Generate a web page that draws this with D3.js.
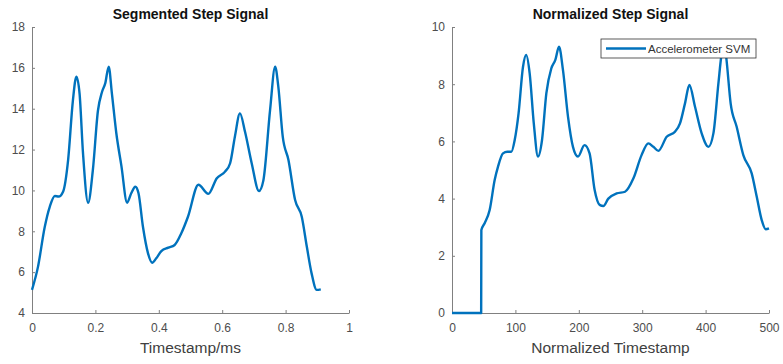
<!DOCTYPE html>
<html>
<head>
<meta charset="utf-8">
<script src="https://cdn.jsdelivr.net/npm/d3@7/dist/d3.min.js"></script>
<style>
  body { margin: 0; background: #fff; }
  svg { display: block; font-family: "Liberation Sans", Arial, sans-serif; }
  .tick text { fill: #4d4d4d; font-size: 12px; }
  .domain, .tick line { stroke: #808080; }
</style>
</head>
<body>
<div id="app"></div>
<script>
// segmented signal (time in ms)
const segTime = [0, 0.019, 0.04, 0.056, 0.072, 0.084, 0.098, 0.114, 0.129, 0.14, 0.15, 0.161, 0.177, 0.192,
  0.208, 0.221, 0.231, 0.242, 0.252, 0.266, 0.282, 0.3, 0.313, 0.326, 0.336, 0.35, 0.366, 0.379, 0.392,
  0.408, 0.43, 0.45, 0.471, 0.492, 0.525, 0.556, 0.583, 0.609, 0.625, 0.64, 0.656, 0.672, 0.693, 0.716,
  0.73, 0.751, 0.767, 0.777, 0.791, 0.809, 0.83, 0.851, 0.867, 0.882, 0.898, 0.911]
const segValue = [5.13, 6.27, 8.2, 9.2, 9.73, 9.7, 9.94, 11.5, 14.4, 15.57, 14.75, 11.8, 9.4, 11.0,
  13.9, 14.83, 15.24, 16.06, 14.75, 12.8, 11.2, 9.4, 9.86, 10.18, 9.86, 8.22, 6.92, 6.46, 6.68,
  7.03, 7.2, 7.33, 7.9, 8.71, 10.28, 9.83, 10.6, 10.92, 11.33, 12.63, 13.77, 12.87, 11.33, 9.97,
  10.5, 13.93, 16.06, 15.08, 12.63, 11.49, 9.53, 8.71, 7.24, 5.94, 5.13, 5.16]

// normalized signal
const normStamp = [0, 46, 46.3, 51.5, 59.4, 67.3, 72.6, 80.4, 87.3, 93.6, 98.9, 105, 112, 117, 122.5, 129,
  135.6, 142, 148.8, 156.6, 163, 168.8, 175, 183, 190.8, 198.7, 209, 217, 225, 232.9, 238.7, 246.6,
  259.7, 272.9, 286, 299, 309.7, 317.6, 325.5, 338.6, 351.7, 359.6, 367.5, 374.4, 383.3, 393.8, 404.4,
  412.3, 420.2, 425.4, 430, 433, 439.5, 449, 459.5, 472.7, 480.6, 488.5, 494.8, 500]
const normValue = [0, 0, 2.9, 3.14, 3.6, 4.65, 5.12, 5.58, 5.64, 5.64, 6.05, 6.98, 8.61, 9.02, 8.38, 6.63,
  5.47, 6.05, 7.68, 8.55, 8.85, 9.31, 8.5, 6.86, 5.81, 5.47, 5.87, 5.58, 4.3, 3.78, 3.74, 4.0,
  4.18, 4.24, 4.7, 5.52, 5.93, 5.81, 5.67, 6.16, 6.34, 6.63, 7.33, 7.97, 7.21, 6.28, 5.81,
  6.28, 8.03, 9.08, 9.4, 8.85, 7.33, 6.51, 5.52, 4.88, 4.07, 3.25, 2.93, 2.96]

const segXTicks = [0, 0.2, 0.4, 0.6, 0.8, 1]
const segYTicks = [4, 6, 8, 10, 12, 14, 16, 18]
const normXTicks = [0, 100, 200, 300, 400, 500]
const normYTicks = [0, 2, 4, 6, 8, 10]

const blue = '#0072BD'
const W = 783, H = 364

const svg = d3.select('#app').append('svg').attr('width', W).attr('height', H)

const drawPanel = function (opt) {
  const x = d3.scaleLinear().domain(opt.xDomain).range([opt.left, opt.right])
  const y = d3.scaleLinear().domain(opt.yDomain).range([opt.bottom, opt.top])
  const g = svg.append('g')

  g.append('g')
    .attr('transform', 'translate(0,' + opt.bottom + ')')
    .call(d3.axisBottom(x).tickValues(opt.xTicks).tickSizeInner(-3).tickSizeOuter(0).tickPadding(10)
      .tickFormat(d3.format('~g')))
  g.append('g')
    .attr('transform', 'translate(' + opt.left + ',0)')
    .call(d3.axisLeft(y).tickValues(opt.yTicks).tickSizeInner(-3).tickSizeOuter(0).tickPadding(7)
      .tickFormat(d3.format('~g')))

  const line = d3.line()
    .x((d, i) => x(opt.xs[i]))
    .y(d => y(d))
    .curve(d3.curveMonotoneX)

  g.append('path')
    .datum(opt.ys)
    .attr('d', line)
    .attr('fill', 'none')
    .attr('stroke', blue)
    .attr('stroke-width', 2.4)
    .attr('stroke-linejoin', 'round')

  g.append('text')
    .attr('x', (opt.left + opt.right) / 2)
    .attr('y', 19)
    .attr('text-anchor', 'middle')
    .attr('font-size', 14)
    .attr('font-weight', 'bold')
    .attr('fill', '#111')
    .text(opt.title)

  g.append('text')
    .attr('x', (opt.left + opt.right) / 2)
    .attr('y', 353)
    .attr('text-anchor', 'middle')
    .attr('font-size', 15.5)
    .attr('fill', '#404040')
    .text(opt.xLabel)
}

drawPanel({
  left: 32, right: 349, top: 27, bottom: 313,
  xDomain: [0, 1], yDomain: [4, 18],
  xTicks: segXTicks, yTicks: segYTicks,
  xs: segTime, ys: segValue,
  title: 'Segmented Step Signal', xLabel: 'Timestamp/ms'
})

drawPanel({
  left: 452, right: 769, top: 27, bottom: 313,
  xDomain: [0, 500], yDomain: [0, 10],
  xTicks: normXTicks, yTicks: normYTicks,
  xs: normStamp, ys: normValue,
  title: 'Normalized Step Signal', xLabel: 'Normalized Timestamp'
})

// legend
const legend = svg.append('g').attr('transform', 'translate(601,39)')
legend.append('rect')
  .attr('width', 155).attr('height', 19)
  .attr('fill', '#fff').attr('stroke', '#333').attr('stroke-width', 0.8)
legend.append('line')
  .attr('x1', 5).attr('x2', 45).attr('y1', 9.5).attr('y2', 9.5)
  .attr('stroke', blue).attr('stroke-width', 2.4)
legend.append('text')
  .attr('x', 47).attr('y', 13.5)
  .attr('font-size', 11.5).attr('fill', '#333')
  .text('Accelerometer SVM')
</script>
</body>
</html>
